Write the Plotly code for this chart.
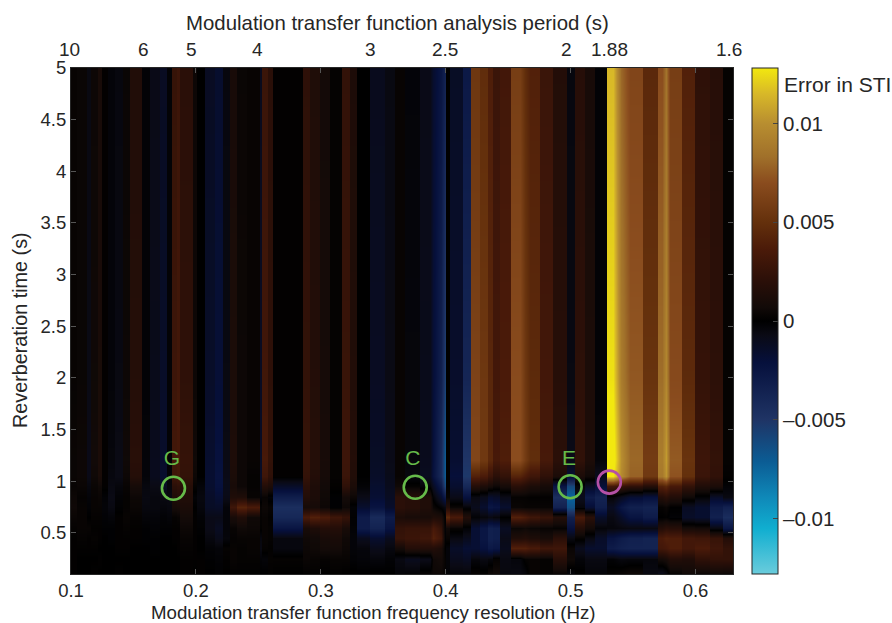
import plotly.graph_objects as go

# column edges, Hz
freq_edges = [.1,.1048,.1128,.116,.1216,.1248,.1296,.1352,.1416,.1472,.1568,.1632,.1712,.1768,.1808,
 .1848,.1872,.1976,.2008,.2072,.2152,.2216,.2272,.2328,.2408,.2512,
 .2528,.2576,.2616,.2856,.2912,.2992,.3072,.3168,.3232,.3288,.3392,.3512,.3592,
 .3672,.3792,.3872,.3928,.3992,.4,.4032,.4136,.42,
 .4272,.4336,.4376,.4432,.452,.4592,.4672,.4752,.4856,.4968,.5032,.5112,.5192,.5288,
 .5336,.5472,.5576,.5696,.5736,.5792,.5888,.5992,.6112,.6216,.63]

# error in STI (x 10^-3) per column at each reverberation time
t_5 = [.3,.4,-.6,.5,1,.1,-.3,-.5,.4,1.5,-.2,-.8,-1.2,-.2,
 2.6,2.9,2,.5,0,-1.2,-1.6,-.5,1,.4,.3,
 -1,2.8,2,.1,2.2,1.4,.8,.2,2.4,1.3,0,-1,-.6,
 .3,-.3,-.8,-1.6,-2.6,-3.6,0,-1.3,-2.8,
 5.5,4.8,3.8,2.8,3.2,6,4.8,4,2.8,1.6,-.5,1.8,1,-.2,
 11.5,8,6.5,4.5,7,8.5,6,4,2.2,1.8,.2]
t_2 = [.3,.4,-.7,.6,1.1,.1,-.3,-.6,.5,1.7,-.2,-.9,-1.4,-.2,
 2.9,3.2,2.2,.5,0,-1.4,-1.9,-.6,1.2,.5,.3,
 -1.2,3.1,2.2,.1,2.4,1.6,.9,.2,2.7,1.5,0,-1.2,-.7,
 .3,-.4,-.9,-1.9,-3.4,-5.6,0,-1.5,-3.8,
 6.3,5.5,4.4,3.2,3.6,6.9,5.5,4.6,3.2,1.8,-.6,2.1,1.2,-.2,
 12.6,9,7.4,5.2,8.2,9.6,6.8,4.6,2.5,2.1,.2]
t_1p2 = [.4,.5,-.8,.7,1.2,.1,-.4,-.7,.6,1.9,-.3,-1,-1.5,-.2,
 3.2,3.4,2.5,.6,0,-1.6,-2.2,-.7,1.3,.5,.3,
 -1.3,3.4,2.4,.1,2.6,1.7,1,.2,2.9,1.6,0,-1.3,-.8,
 .3,-.4,-1,-2.1,-4.2,-7,0,-1.7,-5,
 6.5,5.6,4.5,3.4,3.8,7,5.8,4.8,3.4,2,-.8,2.3,1.3,-.3,
 13.5,10,8,5.8,9,10.5,7.5,5.2,2.9,2.4,.2]
t_1p05 = [.4,.5,-.8,.6,1.1,.1,-.5,-.7,.5,1.7,-.3,-1,-1.6,-.3,
 3,3.2,2.4,.5,0,-1.7,-2.3,-.8,1.2,.5,.2,
 -1.4,3,2.2,.1,2.5,1.6,.9,.2,2.8,1.5,0,-1.4,-.9,
 .3,-.5,-1.1,-2.3,-4.2,-7,0,-2,-5.2,
 4,3.6,2.8,2,2.4,4.2,3.6,3,2.2,1.2,-1.8,1.2,.6,-1,
 12.8,9.8,7.8,5.6,8.8,10.2,7.2,5,2.8,2.3,.1]
t_0p95 = [.3,.4,-.5,.4,.6,.1,-.6,-.4,.3,.9,-.5,-.7,-1.2,-.4,
 2,2.2,1.8,.2,-.3,-1.6,-2.2,-.9,1,.5,.2,
 -.8,1.6,1.3,-1.4,2,1.3,.7,.1,2.2,1.2,-.2,-1.6,-1,
 .6,.2,-.3,-1.2,-3,-6,0,-1.6,-4,
 1.6,1.3,.9,.5,.9,1.9,1.6,1.2,.9,-2.5,-6,-.4,-1.2,-2,
 3.2,2.6,2.2,1.6,4,4.4,3.4,2.4,1.4,1.2,-.2]
t_0p85 = [.5,.2,-.3,.3,.4,-.2,-.7,-.2,.2,.5,-.6,-.5,-.6,-.6,
 1.4,1.6,1.5,-.2,-.5,-1.4,-1.8,-.8,1.4,1.4,.3,
 -.3,.3,-.2,-3.2,1.6,1.2,.6,-.1,.8,.5,-.8,-1.8,-1.2,
 2,1.8,1.4,-.2,-1.6,-3,.3,-.8,-2.2,
 -.6,-.9,-1.6,-1.4,-.8,.2,.2,.1,.1,-4.5,-7.5,-1,-3,-3.6,
 -.3,-1,-1.8,-2.2,1.6,2,1.5,.6,-.2,-1.4,-.6]
t_0p75 = [.6,.3,-.2,.3,.3,-.3,-.6,-.1,.2,.4,-.5,-.5,-.4,-.5,
 .9,1,1.2,0,-.4,-1.3,-1.4,-.3,3,4.2,3.6,
 .3,.5,.3,-4.5,.9,.9,.5,-.1,.5,-.2,-1.6,-2.4,-1.5,
 2,1.8,1.4,.4,-.2,-.6,1.6,.4,-.3,
 -1,-1.6,-2.6,-2.4,-1.6,.4,.3,.3,.3,-3.5,-6.5,-.4,-1.8,-3.2,
 -1.2,-2.6,-3.4,-3.6,.2,.4,0,-1.2,-1.6,-3,-3.5]
t_0p65 = [.4,.3,0,.2,.2,-.2,-.3,.1,.3,.2,-.3,-.3,-.2,-.3,
 .2,.3,.8,.1,-.2,-.8,-.8,-.3,1,1.4,.6,
 .2,.3,.1,-4,3.5,4,3.6,3,2.5,-.1,-3,-4.2,-3,
 1.2,1,1,1.4,1.2,-.1,4.5,3.5,1.5,
 -.2,-.4,-.6,-.4,0,4,3.6,3,2.6,1.6,-3.4,3.5,2,-1.4,
 -.6,-1.4,-2.4,-3,0,.1,-.2,-1.4,-1.6,-3.4,-4.4]
t_0p55 = [.2,.3,.3,.1,.1,-.1,-.1,.1,.2,.1,-.1,-.2,-.1,-.1,
 .1,.1,.5,.1,-.1,-.8,-1.2,-.3,.3,.6,.5,
 .1,.3,.2,-2.5,1,1.3,1.6,1.6,1,-.2,-3,-3.6,-2.4,
 2.4,2.6,2.6,3.5,2.4,-.2,.6,.3,-.2,
 -1.8,-2.6,-3.4,-3.2,-1.2,.4,.6,.4,.3,.2,-2.2,1.6,.8,-.3,
 -.4,-.5,-.6,-.6,1.6,2,1.8,.9,.8,-.6,-2.6]
t_0p45 = [.1,.2,.1,.2,.1,0,-.1,.1,.1,.1,-.1,-.1,0,0,
 .1,.1,.3,.1,0,-.5,-.9,-.4,.2,.3,.3,
 -.5,.3,.2,-.5,.6,.7,1,1.1,.6,-.3,-1,-1.6,-1,
 2.6,2.8,3,4,3,-.1,.3,-.6,-1,
 -1.8,-2.6,-3.4,-3.2,-.8,1.4,1.6,1.3,1,2,-.6,.2,-.6,-1.4,
 -2.4,-3,-3.4,-3.6,3.6,4,3.8,3.2,3,2.6,1.6]
t_0p35 = [.1,.1,.1,.1,0,0,0,.1,.1,0,0,-.1,0,0,
 0,.1,.2,.1,0,-.2,-.3,.2,.3,.2,.3,
 -.6,.2,.1,-.5,.5,.6,.8,.8,.5,-.3,-.4,-.9,-.5,
 .8,1.6,1.6,1.6,1.2,0,-.3,-1.4,-1.8,
 -1.8,-2.2,-2.8,-2.6,-1,4,4,3.5,3,3,.4,-1,-1.6,-1.6,
 -3,-3.4,-3.6,-3.6,3.2,3.4,3.8,3.2,3.6,3,2.4]
t_0p25 = [.1,0,0,0,.1,0,0,0,0,0,0,0,0,0,
 0,0,.1,.1,.1,-.1,-.2,.1,.3,.2,.2,
 -.2,-.3,.2,.2,.4,.3,.2,.3,.3,-.2,-.3,-.4,-.2,
 -.6,-1,-.8,.6,.8,.2,-.3,-1,-1.2,
 -.4,-.6,-.4,.2,-.6,-.4,.2,.3,.2,1.8,.6,-.3,-.6,-.6,
 -.2,-.5,-.4,-.4,.8,1,1.6,1.4,2.2,2.4,2.4]
t_0p1 = [.1,0,0,.1,0,0,0,.1,0,0,0,0,0,0,
 0,0,.1,0,.1,0,-.1,0,.1,.1,.1,
 0,0,.1,0,.1,.1,0,.1,0,.1,0,.1,0,
 -.3,-.2,.3,.5,.5,.2,-.2,-.3,-.3,
 .3,.2,.6,.7,-.5,-.6,-.4,.3,.2,.3,-.4,.1,-.3,-.3,
 .2,.4,.6,-.6,-1,-.6,.2,.6,.4,.5,.4]

rev_times = [.1,.25,.35,.45,.55,.65,.75,.85,.95,1.05,1.2,2,5]
rows = [t_0p1,t_0p25,t_0p35,t_0p45,t_0p55,t_0p65,t_0p75,t_0p85,t_0p95,t_1p05,t_1p2,t_2,t_5]

# columns that ramp smoothly into their neighbours instead of stepping
blend_cols = {41,42,53,62,66}

x_ticks = [.1,.2,.3,.4,.5,.6]
y_ticks = [.5,1,1.5,2,2.5,3,3.5,4,4.5,5]
period_labels = ["10","6","5","4","3","2.5","2","1.88","1.6"]
period_pos = [.0984,.1584,.1968,.2496,.34,.3992,.4968,.5312,.6264]
cb_ticks = [-10,-5,0,5,10]
cb_labels = ["\u20130.01","\u20130.005","0","0.005","0.01"]

circle_x = [.182,.3756,.4996,.531]
circle_y = [.93,.94,.945,.99]
circle_colors = ["#66bb4a","#66bb4a","#66bb4a","#b551a6"]
label_x = [.1808,.3736,.4988]
label_y = [1.21,1.21,1.21]
label_text = ["G","C","E"]

cmap = [(-12.8,"#6accdc"),(-10.5,"#10aed0"),(-8.9,"#0f88b8"),(-7.1,"#0b5c94"),(-5,"#1f3465"),
        (-2.1,"#06103c"),(-.7,"#0a0a14"),(0,"#000000"),(.7,"#120a08"),(2,"#2a0f08"),(3.6,"#4a1a09"),
        (5,"#64300c"),(7,"#8a4c1e"),(8.3,"#a0702a"),(10,"#b88e30"),(11.5,"#d8b828"),(12.8,"#f2e80f")]
colorscale = [[(v+12.8)/25.6,c] for v,c in cmap]

eps = 0.00005
x_dup, z_dup = [], [[] for _ in rows]
for i in range(len(freq_edges)-1):
    if i in blend_cols:
        x_dup.append((freq_edges[i]+freq_edges[i+1])/2)
        for r,row in enumerate(rows):
            z_dup[r].append(row[i])
    else:
        x_dup += [freq_edges[i]+eps, freq_edges[i+1]-eps]
        for r,row in enumerate(rows):
            z_dup[r] += [row[i],row[i]]

FONT = "Liberation Sans"
INK = "#262626"
fig = go.Figure()
fig.add_trace(go.Heatmap(x=x_dup,y=rev_times,z=z_dup,zmin=-12.8,zmax=12.8,colorscale=colorscale,
    zsmooth="best",hoverinfo="skip",
    colorbar=dict(x=1.0294,xanchor="left",y=0,yanchor="bottom",
        lenmode="fraction",len=1,thicknessmode="pixels",thickness=26,
        outlinecolor=INK,outlinewidth=1,tickvals=cb_ticks,ticktext=cb_labels,
        ticks="inside",ticklen=5,tickcolor="#444",tickfont=dict(family=FONT,size=20.5,color=INK),
        xpad=0,ypad=0)))
fig.add_trace(go.Scatter(x=circle_x,y=circle_y,mode="markers",hoverinfo="skip",showlegend=False,
    marker=dict(size=23,color="rgba(0,0,0,0)",line=dict(width=2.6,color=circle_colors))))
fig.add_trace(go.Scatter(x=label_x,y=label_y,mode="text",text=label_text,hoverinfo="skip",showlegend=False,
    textposition="middle center",textfont=dict(family=FONT,size=21,color="#66bb4a")))
for p,lab in zip(period_pos,period_labels):
    fig.add_annotation(text=lab,xref="paper",yref="paper",x=(p-.1)/.53,y=1.0375,xanchor="center",yanchor="middle",
        showarrow=False,font=dict(family=FONT,size=19,color=INK))
fig.add_annotation(text="Error in STI",xref="paper",yref="paper",x=1.0747,y=.968,xanchor="left",yanchor="middle",
    showarrow=False,font=dict(family=FONT,size=21,color=INK))
fig.add_annotation(text="Modulation transfer function analysis period (s)",xref="paper",yref="paper",x=.4932,y=1.0889,
    xanchor="center",yanchor="middle",showarrow=False,font=dict(family=FONT,size=20.4,color=INK))
fig.add_annotation(text="Modulation transfer function frequency resolution (Hz)",xref="paper",yref="paper",x=.4574,y=-.0765,
    xanchor="center",yanchor="middle",showarrow=False,font=dict(family=FONT,size=18.7,color=INK))
fig.add_annotation(text="Reverberation time (s)",xref="paper",yref="paper",x=-.077,y=.4822,textangle=-90,
    xanchor="center",yanchor="middle",showarrow=False,font=dict(family=FONT,size=19.8,color=INK))
fig.update_layout(width=892,height=623,autosize=False,margin=dict(l=71,r=158.5,t=68,b=49),
    paper_bgcolor="white",plot_bgcolor="black",showlegend=False,
    font=dict(family=FONT,size=18.5,color=INK),
    xaxis=dict(range=[.1,.63],tickvals=x_ticks,ticktext=[str(v) for v in x_ticks],ticks="inside",ticklen=5,tickcolor="#555",
        showgrid=False,zeroline=False,showline=True,linecolor=INK,linewidth=1,mirror="ticks"),
    yaxis=dict(range=[.1,5],tickvals=y_ticks,ticktext=[f"{v:g}" for v in y_ticks],ticks="inside",ticklen=5,tickcolor="#555",
        showgrid=False,zeroline=False,showline=True,linecolor=INK,linewidth=1,mirror="ticks"))
fig.write_html("out.html",config={"displayModeBar":False},post_script="document.body.style.margin='0';")
